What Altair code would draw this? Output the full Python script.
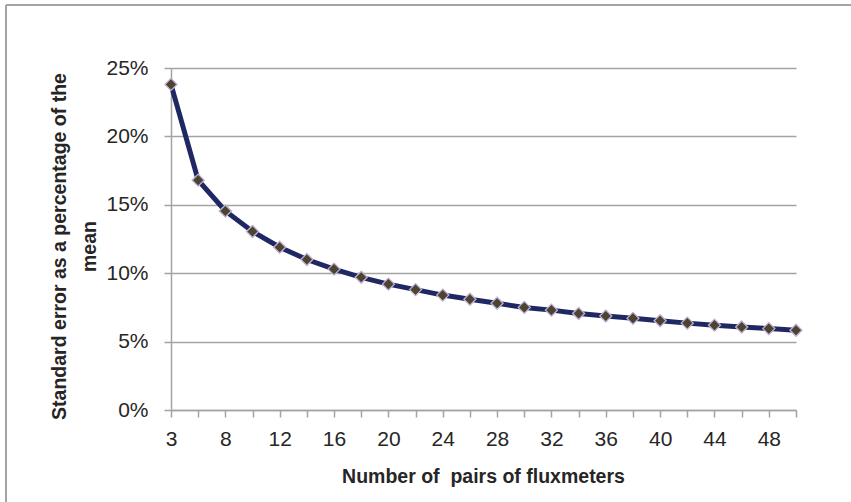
import altair as alt
import pandas as pd

# Data
pairs = [3, 6, 8, 10, 12, 14, 16, 18, 20, 22, 24, 26, 28, 30, 32, 34, 36, 38, 40, 42, 44, 46, 48, 50]
se_pct = [23.8, 16.8, 14.55, 13.05, 11.9, 11.0, 10.3, 9.7, 9.2, 8.8, 8.4, 8.1, 7.8, 7.5, 7.3,
          7.05, 6.87, 6.7, 6.52, 6.35, 6.2, 6.07, 5.95, 5.83]
x_tick_labels = [3, 8, 12, 16, 20, 24, 28, 32, 36, 40, 44, 48]
y_ticks = [0, 0.05, 0.10, 0.15, 0.20, 0.25]

df = pd.DataFrame({"pairs": pairs, "se": [v / 100 for v in se_pct]})

FONT = "Liberation Sans"
GRAY = "#a3a3a3"
TEXT = "#262626"
label_cond = " || ".join(f"datum.value == {v}" for v in x_tick_labels)

x_enc = alt.X(
    "pairs:O",
    sort=pairs,
    scale=alt.Scale(type="point", padding=0),
    axis=alt.Axis(
        title="Number of\u00a0 pairs of fluxmeters",
        titleFont=FONT, titleFontSize=19.5, titleFontWeight="bold", titleColor=TEXT,
        titleX=312, titleY=66, titleBaseline="middle", titleAnchor="middle",
        labelExpr=f"({label_cond}) ? datum.label : ''",
        labelAngle=0, labelFont=FONT, labelFontSize=21, labelColor=TEXT,
        labelPadding=11, labelOverlap=False,
        tickSize=7, tickColor=GRAY, tickWidth=1.5,
        domainColor=GRAY, domainWidth=1.5, grid=False,
    ),
)
y_enc = alt.Y(
    "se:Q",
    scale=alt.Scale(domain=[0, 0.25], nice=False),
    axis=alt.Axis(
        title=["Standard error as a percentage of the", "mean"],
        titleFont=FONT, titleFontSize=19.5, titleFontWeight="bold", titleColor=TEXT,
        titleX=-112, titleY=178, titleBaseline="middle", titleAngle=-90, titleLineHeight=30,
        values=y_ticks, format=".0%",
        labelFont=FONT, labelFontSize=21, labelColor=TEXT, labelPadding=16,
        tickSize=7, tickColor=GRAY, tickWidth=1.5,
        domainColor=GRAY, domainWidth=1.5,
        grid=True, gridColor=GRAY, gridWidth=1.5,
    ),
)

base = alt.Chart(df).encode(x=x_enc, y=y_enc)
line = base.mark_line(color="#1f2862", strokeWidth=5)
points = base.mark_point(shape="diamond", filled=True, fill="#4d4430", stroke="#bfb0d8",
                         strokeWidth=1.3, size=145, opacity=1)

blank = alt.Data(values=[{}])
border_top = alt.Chart(blank).mark_rule(color=GRAY, strokeWidth=2).encode(
    x=alt.value(-165), x2=alt.value(700), y=alt.value(-63))
border_left = alt.Chart(blank).mark_rule(color=GRAY, strokeWidth=2).encode(
    x=alt.value(-165), y=alt.value(-63), y2=alt.value(450))

chart = alt.layer(border_top, border_left, line, points).properties(
    width=625, height=342,
    autosize=alt.AutoSizeParams(type="none"),
    padding={"left": 171, "top": 68, "right": 55, "bottom": 92},
    background="white",
).configure_view(stroke=None)

chart.save("out.html", embed_options={"renderer": "svg", "actions": False})
